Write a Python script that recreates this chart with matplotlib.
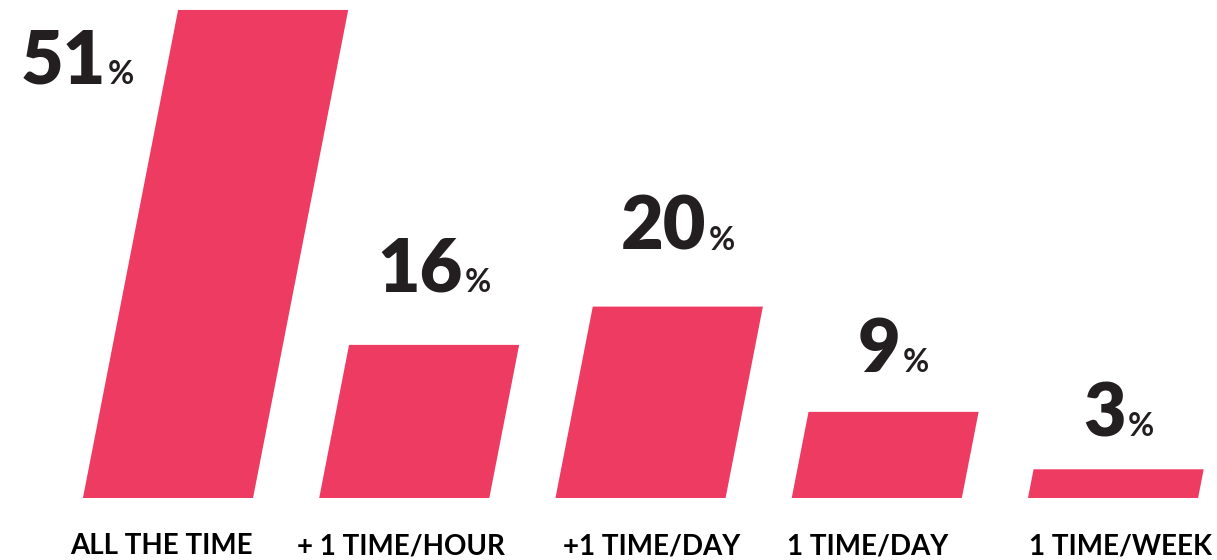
import matplotlib
matplotlib.use('Agg')
import matplotlib.pyplot as plt
from matplotlib.patches import Polygon

# data
categories = ['ALL THE TIME', '+ 1 TIME/HOUR', '+1 TIME/DAY', '1 TIME/DAY', '1 TIME/WEEK']
values = [51, 16, 20, 9, 3]

# style
bar_color = '#EE3B62'
num_color = '#231F20'
bar_w = 0.72          # in category units
slant = 0.195         # horizontal px per vertical px
gap_px = [None, 53, 57, 40, 33]      # label baseline above bar top
label_dx_px = [-7, -3, 11, -9, 7]    # small nudges of the category labels

W, H, DPI = 1217, 560, 100
fig = plt.figure(figsize=(W / DPI, H / DPI), dpi=DPI)
ax = fig.add_axes([0, 0, 1, 1])
ax.set_xlim(-0.711, 4.44)
ax.set_ylim(-6.48, 52.04)
ax.axis('off')

# pixel scales so the slant is the same for all bars
px_x = W / (4.44 + 0.711)
px_y = H / (52.04 + 6.48)
k = slant * px_y / px_x
to_pt = 72 / DPI

for i, v in enumerate(values):
    x0 = i - bar_w / 2
    s = v * k
    pts = [(x0, 0), (x0 + bar_w, 0), (x0 + bar_w + s, v), (x0 + s, v)]
    ax.add_patch(Polygon(pts, closed=True, color=bar_color, lw=0))

# category labels
for i, c in enumerate(categories):
    ax.annotate(c, (i, 0), xytext=(label_dx_px[i] * to_pt, -40.5), textcoords='offset points',
                ha='center', va='baseline', fontsize=20, fontweight='bold',
                family='Lato', color='black')

# value labels: big number + small %
num_font = dict(family='Lato', fontweight='heavy', fontsize=53, color=num_color)
pct_font = dict(family='Lato', fontweight='bold', fontsize=23, color=num_color)
sep = 1.5  # points

fig.canvas.draw()
r = fig.canvas.get_renderer()

for i, v in enumerate(values):
    top_c = i + v * k
    if i == 0:
        xy = (top_c - bar_w / 2, v)
        cx, cy = -101 * to_pt, -74 * to_pt
    else:
        xy = (top_c, v)
        cx, cy = 0, gap_px[i] * to_pt
    t1 = ax.annotate(str(v), xy, xytext=(cx, cy), textcoords='offset points',
                     ha='right', va='baseline', **num_font)
    t2 = ax.annotate('%', xy, xytext=(cx + sep, cy), textcoords='offset points',
                     ha='left', va='baseline', **pct_font)
    w1 = t1.get_window_extent(r).width * to_pt
    w2 = t2.get_window_extent(r).width * to_pt
    total = w1 + sep + w2
    shift = -total / 2 + w1
    t1.set_position((cx + shift, cy))
    t2.set_position((cx + shift + sep, cy))

fig.savefig('out.png', dpi=DPI)
